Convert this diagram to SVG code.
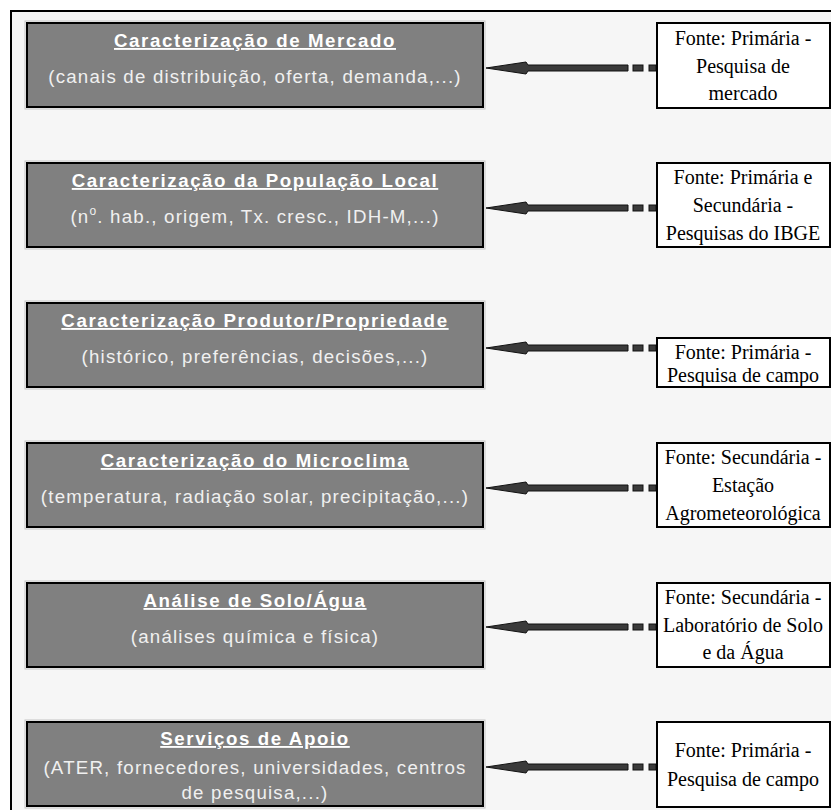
<svg xmlns="http://www.w3.org/2000/svg" width="831" height="810" viewBox="0 0 831 810">
  <style>
    .frame { fill: #f6f6f6; stroke: #000; stroke-width: 2; }
    .topic-halo { fill: none; stroke: #c4c4c4; stroke-width: 1; }
    .topic { fill: #808080; stroke: #000; stroke-width: 2; }
    .source { fill: #ffffff; stroke: #000; stroke-width: 2; }
    .title { font-family: "Liberation Sans", Arial, sans-serif; font-weight: bold; font-size: 18.7px; fill: #ffffff; text-decoration: underline; letter-spacing: 1.6px; text-anchor: middle; }
    .detail { font-family: "Liberation Sans", Arial, sans-serif; font-size: 18.7px; fill: #f0f0f0; letter-spacing: 1.2px; text-anchor: middle; }
    .src { font-family: "Liberation Serif", "Times New Roman", serif; font-size: 20px; fill: #000; text-anchor: middle; }
    .arrow { fill: #3a3a3a; stroke: #111; stroke-width: 1; }
  </style>
  <defs>
    <!-- thick arrow from a source box back to its topic box, drawn at y = 0 -->
    <g id="feed">
      <path class="arrow" d="M486,0 L526,-6 L528,-3 L628,-3 L628,3 L528,3 L526,6 Z"/>
      <rect class="arrow" x="633" y="-3" width="10" height="6"/>
      <rect class="arrow" x="649" y="-3" width="7" height="6"/>
    </g>
  </defs>

  <rect width="831" height="810" fill="#ffffff"/>
  <rect class="frame" x="11" y="11" width="840" height="820"/>

  <!-- connectors -->
  <g id="connectors">
    <use href="#feed" y="68"/>
    <use href="#feed" y="208"/>
    <use href="#feed" y="348"/>
    <use href="#feed" y="488"/>
    <use href="#feed" y="627"/>
    <use href="#feed" y="767"/>
  </g>

  <!-- topic boxes -->
  <g id="mercado">
    <rect class="topic-halo" x="25" y="21" width="460" height="88"/>
    <rect class="topic" x="27" y="23" width="456" height="84"/>
    <text class="title" x="255" y="47">Caracterização de Mercado</text>
    <text class="detail" x="255" y="83">(canais de distribuição, oferta, demanda,...)</text>
  </g>
  <g id="populacao">
    <rect class="topic-halo" x="25" y="161" width="460" height="88"/>
    <rect class="topic" x="27" y="163" width="456" height="84"/>
    <text class="title" x="255" y="187">Caracterização da População Local</text>
    <text class="detail" x="255" y="223">(n<tspan font-size="12" dy="-8">o</tspan><tspan dy="8">. hab., origem, Tx. cresc., IDH-M,...)</tspan></text>
  </g>
  <g id="produtor">
    <rect class="topic-halo" x="25" y="301" width="460" height="88"/>
    <rect class="topic" x="27" y="303" width="456" height="84"/>
    <text class="title" x="255" y="327">Caracterização Produtor/Propriedade</text>
    <text class="detail" x="255" y="363">(histórico, preferências, decisões,...)</text>
  </g>
  <g id="microclima">
    <rect class="topic-halo" x="25" y="441" width="460" height="88"/>
    <rect class="topic" x="27" y="443" width="456" height="84"/>
    <text class="title" x="255" y="467">Caracterização do Microclima</text>
    <text class="detail" x="255" y="503">(temperatura, radiação solar, precipitação,...)</text>
  </g>
  <g id="solo-agua">
    <rect class="topic-halo" x="25" y="581" width="460" height="88"/>
    <rect class="topic" x="27" y="583" width="456" height="84"/>
    <text class="title" x="255" y="607">Análise de Solo/Água</text>
    <text class="detail" x="255" y="643">(análises química e física)</text>
  </g>
  <g id="apoio">
    <rect class="topic-halo" x="25" y="720" width="460" height="88"/>
    <rect class="topic" x="27" y="722" width="456" height="84"/>
    <text class="title" x="255" y="745">Serviços de Apoio</text>
    <text class="detail" x="255" y="774">(ATER, fornecedores, universidades, centros</text>
    <text class="detail" x="255" y="799">de pesquisa,...)</text>
  </g>

  <!-- source boxes -->
  <g id="fonte-mercado">
    <rect class="source" x="657" y="23" width="173" height="85"/>
    <text class="src" x="743" y="44.5">Fonte: Primária -</text>
    <text class="src" x="743" y="72.5">Pesquisa de</text>
    <text class="src" x="743" y="100">mercado</text>
  </g>
  <g id="fonte-populacao">
    <rect class="source" x="657" y="163" width="173" height="84"/>
    <text class="src" x="743" y="184">Fonte: Primária e</text>
    <text class="src" x="743" y="212">Secundária -</text>
    <text class="src" x="743" y="240">Pesquisas do IBGE</text>
  </g>
  <g id="fonte-produtor">
    <rect class="source" x="657" y="338" width="173" height="49"/>
    <text class="src" x="743" y="359">Fonte: Primária -</text>
    <text class="src" x="743" y="382">Pesquisa de campo</text>
  </g>
  <g id="fonte-microclima">
    <rect class="source" x="657" y="443" width="173" height="84"/>
    <text class="src" x="743" y="464">Fonte: Secundária -</text>
    <text class="src" x="743" y="492">Estação</text>
    <text class="src" x="743" y="520">Agrometeorológica</text>
  </g>
  <g id="fonte-solo-agua">
    <rect class="source" x="657" y="583" width="173" height="84"/>
    <text class="src" x="743" y="604">Fonte: Secundária -</text>
    <text class="src" x="743" y="632">Laboratório de Solo</text>
    <text class="src" x="743" y="659">e da Água</text>
  </g>
  <g id="fonte-apoio">
    <rect class="source" x="657" y="722" width="173" height="85"/>
    <text class="src" x="743" y="757">Fonte: Primária -</text>
    <text class="src" x="743" y="786">Pesquisa de campo</text>
  </g>
</svg>
